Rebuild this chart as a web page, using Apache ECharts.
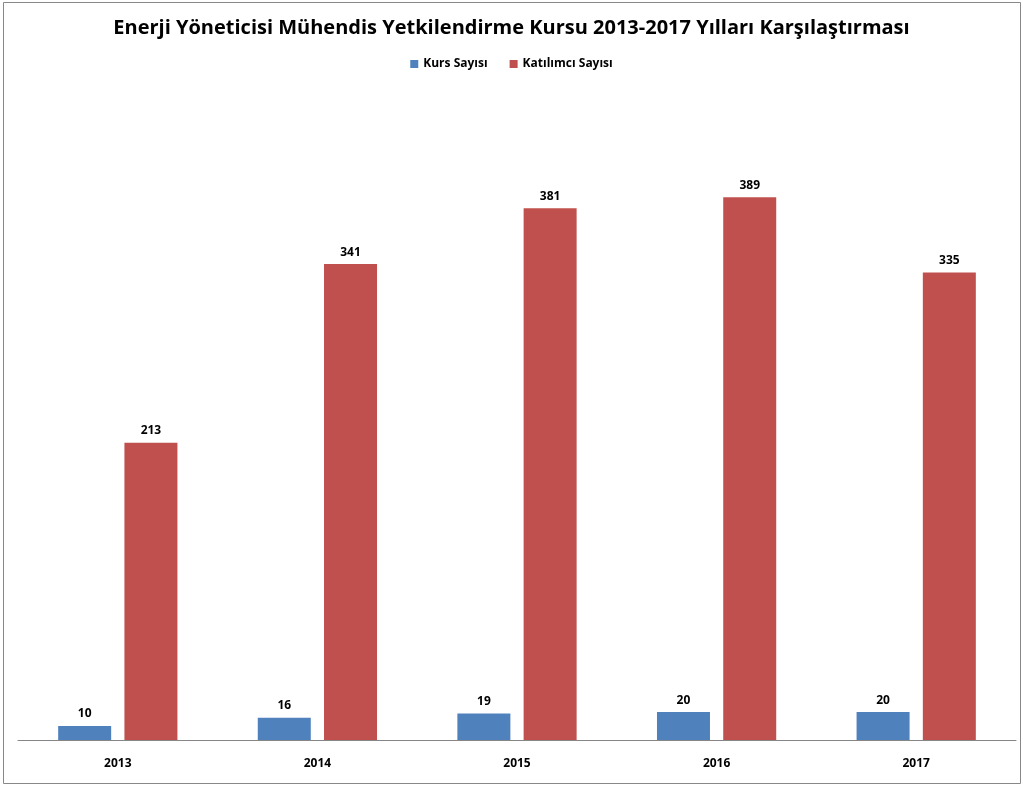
<!DOCTYPE html>
<html><head><meta charset="utf-8">
<script src="https://cdn.jsdelivr.net/npm/echarts@6/dist/echarts.min.js"></script>
<style>html,body{margin:0;padding:0;background:#fff}#c{width:1023px;height:785px}</style>
</head><body><div id="c"></div>
<script>
const categories = ['2013','2014','2015','2016','2017'];
const kursSayisi = [10,16,19,20,20];
const katilimciSayisi = [213,341,381,389,335];
const seriesNames = ['Kurs Sayısı','Katılımcı Sayısı'];
const titleText = 'Enerji Yöneticisi Mühendis Yetkilendirme Kursu 2013-2017 Yılları Karşılaştırması';

const chart = echarts.init(document.getElementById('c'));
const lbl = {show:true, position:'top', distance:6, color:'#000', fontWeight:'bold', fontSize:12, fontFamily:'Open Sans'};
chart.setOption({
  animation:false,
  graphic:[{type:'rect', shape:{x:3.5,y:2.5,width:1017,height:781}, style:{fill:null, stroke:'#888', lineWidth:1}}],
  title:{text:titleText, left:'center', top:13, textStyle:{fontFamily:'Open Sans', fontWeight:'bold', fontSize:20, color:'#000'}},
  legend:{top:53, left:'center', itemWidth:8, itemHeight:8, itemGap:22, icon:'rect',
    textStyle:{fontFamily:'Open Sans', fontWeight:'bold', fontSize:12, color:'#000'}},
  grid:{left:18, right:7, top:112, bottom:45},
  xAxis:{type:'category', data:categories, axisTick:{show:false},
    axisLine:{lineStyle:{color:'#868686'}},
    axisLabel:{color:'#000', fontWeight:'bold', fontSize:12, fontFamily:'Open Sans', margin:18}},
  yAxis:{type:'value', min:0, max:450, interval:50, show:false, splitLine:{show:false}},
  series:[
    {name:seriesNames[0], type:'bar', data:kursSayisi, barWidth:53, barGap:'25%', itemStyle:{color:'#4f81bd'}, label:lbl},
    {name:seriesNames[1], type:'bar', data:katilimciSayisi, barWidth:53, barGap:'25%', itemStyle:{color:'#c0504d'}, label:lbl}
  ]
});
</script></body></html>
